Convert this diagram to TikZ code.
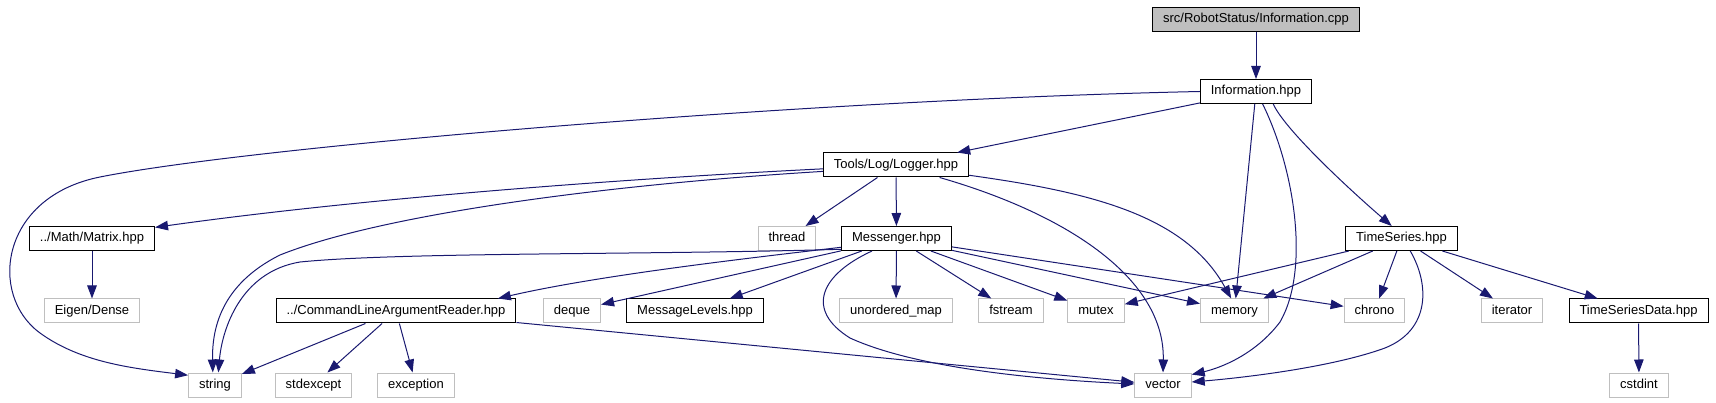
\documentclass[tikz,border=0pt]{standalone}
\usepackage{fontspec}
\setmainfont{Liberation Sans}
\usepackage{tikz}
\usetikzlibrary{arrows.meta}
\definecolor{dxedge}{HTML}{191970}
\definecolor{dxgrey}{HTML}{BFBFBF}
\definecolor{dxsrc}{HTML}{BFBFBF}

\begin{document}
\begin{tikzpicture}[x=1pt,y=-1pt,
    box/.style={draw=black,line width=1pt,fill=white,minimum height=24pt,inner xsep=10.5pt,inner ysep=0pt,
      text height=9.5pt,text depth=2.8pt,font=\fontsize{13}{15}\selectfont},
    sys/.style={box,draw=dxgrey},
    edge/.style={draw=dxedge,line width=1pt,-{Triangle[length=13pt,width=9.5pt]}}]
  \useasboundingbox (0,0) rectangle (1716,403);
  % rank 0 and 1
  \node[box,fill=dxsrc] (src) at (1256,19.5) {src/RobotStatus/Information.cpp};
  \node[box] (info) at (1256,91.5) {Information.hpp};
  \node[box] (logger) at (896,165) {Tools/Log/Logger.hpp};
  % rank 3
  \node[box] (matrix) at (92,238.5) {../Math/Matrix.hpp};
  \node[sys] (thread) at (787,238.5) {thread};
  \node[box] (messenger) at (896.5,238.5) {Messenger.hpp};
  \node[box] (tseries) at (1401.5,238.5) {TimeSeries.hpp};
  % rank 4
  \node[sys] (eigen) at (92,311) {Eigen/Dense};
  \node[box] (clar) at (396,311) {../CommandLineArgumentReader.hpp};
  \node[sys] (deque) at (572,311) {deque};
  \node[box] (msglvl) at (695,311) {MessageLevels.hpp};
  \node[sys] (umap) at (896,311) {unordered\_map};
  \node[sys] (fstream) at (1011,311) {fstream};
  \node[sys] (mutex) at (1096,311) {mutex};
  \node[sys] (memory) at (1234.5,311) {memory};
  \node[sys] (chrono) at (1374.5,311) {chrono};
  \node[sys] (iterator) at (1512,311) {iterator};
  \node[box] (tsdata) at (1638.5,311) {TimeSeriesData.hpp};
  % rank 5
  \node[sys] (string) at (215,385) {string};
  \node[sys] (stdexc) at (313.5,385) {stdexcept};
  \node[sys] (except) at (416,385) {exception};
  \node[sys] (vector) at (1163,385) {vector};
  \node[sys] (cstdint) at (1639,385) {cstdint};

  % straight includes
  \foreach \a/\b in {src/info,info/logger,info/memory,logger/thread,logger/messenger,matrix/eigen,
      messenger/deque,messenger/msglvl,messenger/umap,messenger/fstream,messenger/mutex,
      messenger/memory,messenger/chrono,clar/string,clar/stdexc,clar/except,clar/vector,
      tseries/mutex,tseries/memory,tseries/chrono,tseries/iterator,tseries/tsdata,tsdata/cstdint}
    \draw[edge] (\a) -- (\b);

  % curved includes
  \draw[edge] (info.west) .. controls (800,100) and (250,147) .. (100,177)
    .. controls (0,197) and (-12,295) .. (40,333)
    .. controls (80,362) and (130,368) .. (string.160);
  \draw[edge] (info.-62) .. controls (1295,170) and (1310,270) .. (1280,322)
    .. controls (1255,355) and (1220,368) .. (vector.20);
  \draw[edge] (info.-36) .. controls (1285,130) and (1350,190) .. (tseries.128);
  \draw[edge] (logger.183) .. controls (600,180) and (350,200) .. (matrix.10);
  \draw[edge] (logger.185) .. controls (600,185) and (380,215) .. (280,255)
    .. controls (220,285) and (212,330) .. (string.100);
  \draw[edge] (logger.-16) .. controls (1070,215) and (1165,280) .. (vector.north);
  \draw[edge] (logger.-8) .. controls (1090,192) and (1185,215) .. (memory.105);
  \draw[edge] (messenger.189) .. controls (750,258) and (600,275) .. (clar.7);
  \draw[edge] (messenger.191) .. controls (650,255) and (400,252) .. (300,262)
    .. controls (240,272) and (222,330) .. (string.75);
  \draw[edge] (messenger.207) .. controls (820,275) and (805,310) .. (850,338)
    .. controls (920,370) and (1050,380) .. (vector.178);
  \draw[edge] (tseries.-55) .. controls (1430,285) and (1430,330) .. (1385,348)
    .. controls (1330,368) and (1240,378) .. (vector.6);
\end{tikzpicture}
\end{document}
